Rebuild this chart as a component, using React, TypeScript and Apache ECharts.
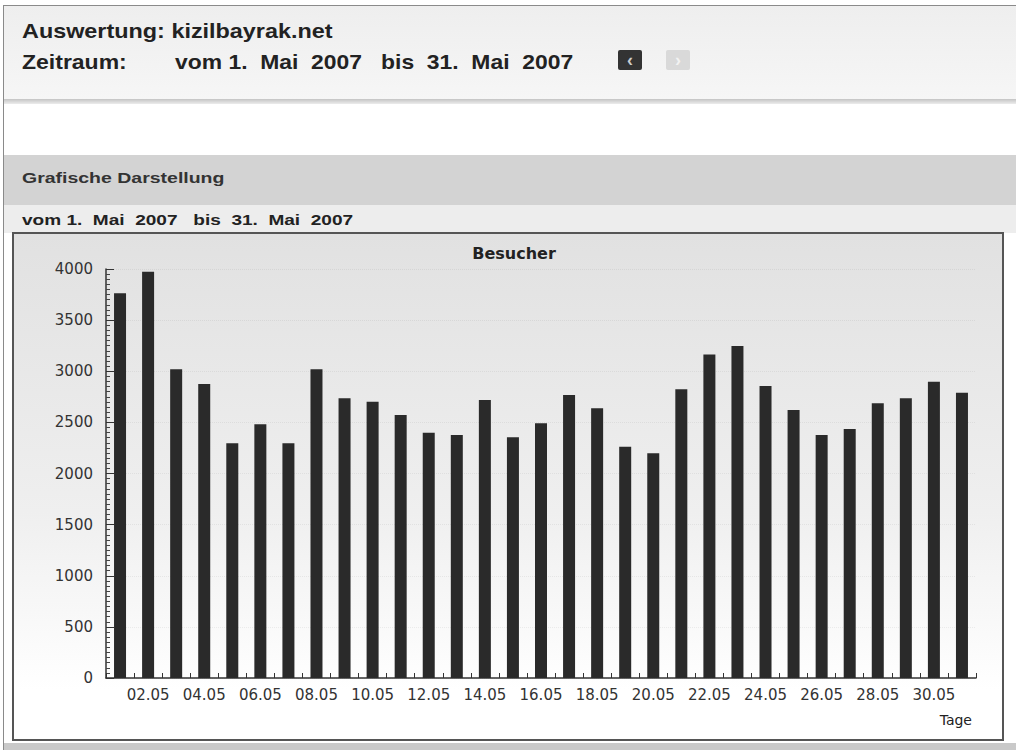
import React, { useEffect, useRef } from "react";
import * as echarts from "echarts";

const days = [
  "01.05", "02.05", "03.05", "04.05", "05.05", "06.05", "07.05", "08.05",
  "09.05", "10.05", "11.05", "12.05", "13.05", "14.05", "15.05", "16.05",
  "17.05", "18.05", "19.05", "20.05", "21.05", "22.05", "23.05", "24.05",
  "25.05", "26.05", "27.05", "28.05", "29.05", "30.05", "31.05",
];

const visitors = [
  3762, 3974, 3019, 2875, 2295, 2481, 2295, 3019, 2735, 2702, 2572, 2399,
  2377, 2719, 2354, 2491, 2768, 2638, 2262, 2197, 2823, 3165, 3247, 2856,
  2621, 2377, 2435, 2686, 2735, 2898, 2790,
];

const yMin = 0;
const yMax = 4000;
const yStep = 500;

const headerTitle = "Auswertung: kizilbayrak.net";
const headerLabel = "Zeitraum:";
const headerRange = "vom 1.  Mai  2007   bis  31.  Mai  2007";
const sectionTitle = "Grafische Darstellung";
const sectionRange = "vom 1.  Mai  2007   bis  31.  Mai  2007";
const chartTitle = "Besucher";
const xName = "Tage";

const SANS = "Liberation Sans, Arial, sans-serif";
const AXF = "DejaVu Sans, Verdana, sans-serif";

export default function App() {
  const ref = useRef<HTMLDivElement>(null);

  useEffect(() => {
    if (!ref.current) return;
    const chart = echarts.init(ref.current, null, { renderer: "svg" });
    const option: any = {
      animation: false,
      backgroundColor: "#ffffff",
      title: {
        text: chartTitle,
        left: 509,
        top: 240,
        textAlign: "center",
        textStyle: { fontFamily: AXF, fontSize: 16, fontWeight: "bold", color: "#222" },
      },
      grid: { left: 106, right: 40, top: 269, bottom: 72 },
      xAxis: {
        type: "category",
        data: days,
        boundaryGap: true,
        axisLine: { lineStyle: { color: "#333", width: 1.5 } },
        axisTick: {
          show: true,
          inside: true,
          length: 5,
          interval: 0,
          lineStyle: { color: "#333" },
        },
        axisLabel: {
          interval: (i: number) => i % 2 === 1,
          fontFamily: AXF,
          fontSize: 15,
          color: "#333",
          margin: 9,
        },
      },
      yAxis: {
        type: "value",
        min: yMin,
        max: yMax,
        interval: yStep,
        axisLine: { show: true, lineStyle: { color: "#333", width: 1.5 } },
        axisTick: { show: true, inside: true, length: 8, lineStyle: { color: "#333" } },
        minorTick: { show: true, splitNumber: 10, length: 4, lineStyle: { color: "#444" } },
        splitLine: { show: true, lineStyle: { color: "rgba(0,0,0,0.06)", type: "dotted" } },
        axisLabel: {
          fontFamily: AXF,
          fontSize: 15,
          color: "#333",
          margin: 13,
          formatter: (v: number) => String(v),
        },
      },
      series: [
        {
          type: "bar",
          data: visitors,
          barWidth: 12,
          itemStyle: { color: "#2a2a2a" },
        },
      ],
      graphic: [
        { type: "rect", z: -100, shape: { x: 0, y: 0, width: 1016, height: 750 }, style: { fill: "#ffffff" } },
        {
          type: "rect", z: -99,
          shape: { x: 4, y: 5, width: 1012, height: 95 },
          style: {
            fill: new echarts.graphic.LinearGradient(0, 0, 0, 1, [
              { offset: 0, color: "#eeeeee" },
              { offset: 1, color: "#f6f6f6" },
            ]),
          },
        },
        {
          type: "rect", z: -98,
          shape: { x: 4, y: 99, width: 1012, height: 5 },
          style: {
            fill: new echarts.graphic.LinearGradient(0, 0, 0, 1, [
              { offset: 0, color: "#c4c4c4" },
              { offset: 1, color: "#ececec" },
            ]),
          },
        },
        { type: "line", z: -97, shape: { x1: 3, y1: 5.5, x2: 1016, y2: 5.5 }, style: { stroke: "#8a8a8a", lineWidth: 1 } },
        { type: "line", z: -97, shape: { x1: 3.5, y1: 5, x2: 3.5, y2: 750 }, style: { stroke: "#8a8a8a", lineWidth: 1 } },
        {
          type: "text", x: 22, y: 31, scaleX: 1.17,
          style: { text: headerTitle, font: `bold 20px ${SANS}`, fill: "#222", verticalAlign: "middle" },
        },
        {
          type: "text", x: 22, y: 62, scaleX: 1.15,
          style: { text: headerLabel, font: `bold 20px ${SANS}`, fill: "#222", verticalAlign: "middle" },
        },
        {
          type: "text", x: 175, y: 62, scaleX: 1.145,
          style: { text: headerRange, font: `bold 20px ${SANS}`, fill: "#222", verticalAlign: "middle" },
        },
        { type: "rect", shape: { x: 618, y: 50, width: 24, height: 20, r: 2 }, style: { fill: "#333333" } },
        {
          type: "text", x: 630, y: 60,
          style: { text: "‹", font: `bold 18px ${SANS}`, fill: "#cccccc", align: "center", verticalAlign: "middle" },
        },
        { type: "rect", shape: { x: 666, y: 50, width: 24, height: 20, r: 2 }, style: { fill: "#d9d9d9" } },
        {
          type: "text", x: 678, y: 60,
          style: { text: "›", font: `bold 18px ${SANS}`, fill: "#f2f2f2", align: "center", verticalAlign: "middle" },
        },
        { type: "rect", z: -99, shape: { x: 4, y: 155, width: 1012, height: 50 }, style: { fill: "#d3d3d3" } },
        {
          type: "text", x: 22, y: 178, scaleX: 1.3,
          style: { text: sectionTitle, font: `bold 15px ${SANS}`, fill: "#333", verticalAlign: "middle" },
        },
        { type: "rect", z: -99, shape: { x: 4, y: 205, width: 1012, height: 28 }, style: { fill: "#ededed" } },
        {
          type: "text", x: 22, y: 220, scaleX: 1.27,
          style: { text: sectionRange, font: `bold 15px ${SANS}`, fill: "#222", verticalAlign: "middle" },
        },
        {
          type: "rect", z: -98,
          shape: { x: 13, y: 233, width: 990, height: 507 },
          style: {
            fill: new echarts.graphic.LinearGradient(0, 0, 0, 1, [
              { offset: 0, color: "#e1e1e1" },
              { offset: 0.55, color: "#efefef" },
              { offset: 0.9, color: "#ffffff" },
              { offset: 1, color: "#ffffff" },
            ]),
            stroke: "#555555",
            lineWidth: 2,
          },
        },
        { type: "rect", z: -99, shape: { x: 4, y: 743, width: 1012, height: 7 }, style: { fill: "#c9c9c9" } },
        {
          type: "text", x: 972, y: 720,
          style: { text: xName, font: `14px ${AXF}`, fill: "#222", align: "right", verticalAlign: "middle" },
        },
      ],
    };
    chart.setOption(option);
    return () => chart.dispose();
  }, []);

  return (
    <div
      ref={ref}
      style={{ position: "fixed", left: 0, top: 0, width: 1016, height: 750 }}
    />
  );
}
